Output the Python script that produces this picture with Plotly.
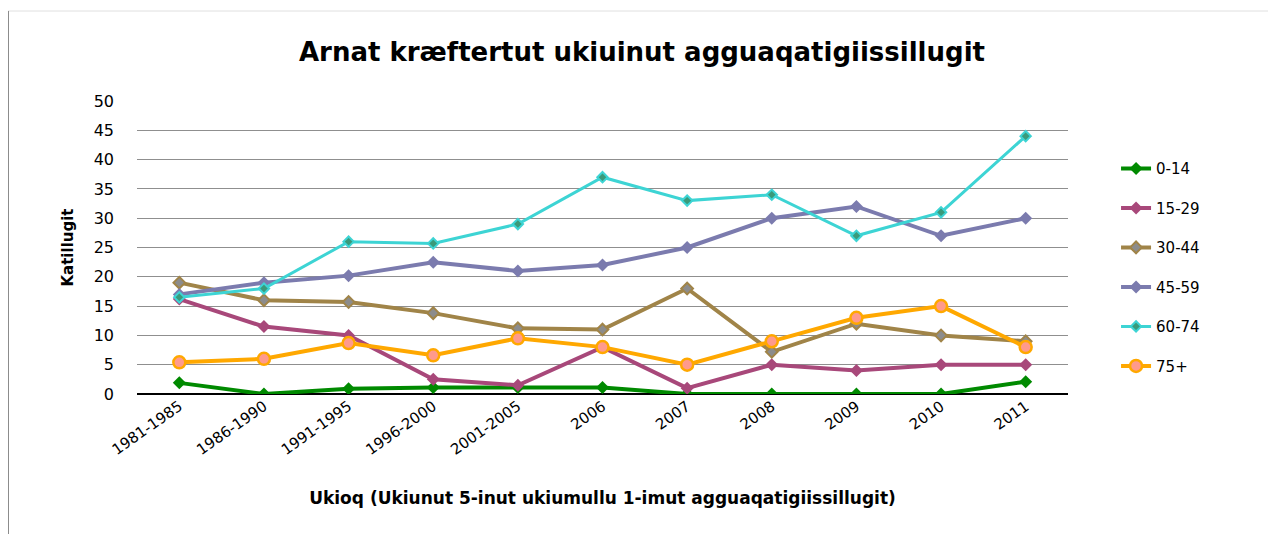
import plotly.graph_objects as go

categories = ["1981-1985", "1986-1990", "1991-1995", "1996-2000", "2001-2005",
              "2006", "2007", "2008", "2009", "2010", "2011"]
series_names = ["0-14", "15-29", "30-44", "45-59", "60-74", "75+"]
v_0_14 = [1.9, 0, 0.9, 1.1, 1.1, 1.1, 0, 0, 0, 0, 2.1]
v_15_29 = [16.2, 11.5, 10, 2.5, 1.5, 8, 1, 5, 4, 5, 5]
v_30_44 = [19, 16, 15.7, 13.8, 11.2, 11, 18, 7.2, 12, 10, 9]
v_45_59 = [17, 19, 20.2, 22.5, 21, 22, 25, 30, 32, 27, 30]
v_60_74 = [16.5, 18, 26, 25.7, 29, 37, 33, 34, 27, 31, 44]
v_75 = [5.4, 6, 8.7, 6.6, 9.5, 8, 5, 9, 13, 15, 8]
y_ticks = [0, 5, 10, 15, 20, 25, 30, 35, 40, 45, 50]

values = [v_0_14, v_15_29, v_30_44, v_45_59, v_60_74, v_75]
styles = [
    dict(line=dict(color="#008A00", width=4), marker=dict(symbol="diamond", size=10, color="#008A00")),
    dict(line=dict(color="#A8487A", width=4), marker=dict(symbol="diamond", size=10, color="#A8487A")),
    dict(line=dict(color="#A08448", width=4), marker=dict(symbol="diamond", size=9, color="#8C8C8C", line=dict(color="#A08448", width=2))),
    dict(line=dict(color="#7B7BAE", width=4), marker=dict(symbol="diamond", size=10, color="#7B7BAE")),
    dict(line=dict(color="#3DD4D4", width=3), marker=dict(symbol="diamond", size=8, color="#3A9A7A", line=dict(color="#3DD4D4", width=2))),
    dict(line=dict(color="#FFA800", width=4), marker=dict(symbol="circle", size=12, color="#FF9A8C", line=dict(color="#FFA800", width=2.5))),
]

fig = go.Figure()
for i, (name, vals, st) in enumerate(zip(series_names, values, styles)):
    fig.add_trace(go.Scatter(x=categories, y=vals, name=name, mode="lines+markers",
                             legendgroup=name, **st))

W, H = 1268, 526
L, T, PW, PH = 129, 93, 931, 293
fig.update_layout(
    width=W, height=H,
    paper_bgcolor="white", plot_bgcolor="white",
    margin=dict(l=L, r=W - L - PW, t=T, b=H - T - PH, autoexpand=False),
    font=dict(family="DejaVu Sans, sans-serif", color="#000000", size=13),
    title=dict(text="<b>Arnat kræftertut ukiuinut agguaqatigiissillugit</b>",
               x=(642 - 8) / W, xanchor="center", xref="container",
               y=1 - 44 / H, yref="container", yanchor="middle",
               font=dict(size=26, family="DejaVu Sans, sans-serif")),
    showlegend=True,
    legend=dict(x=1.0516, xanchor="left", y=0.433, yanchor="middle",
                font=dict(size=15, family="DejaVu Sans, sans-serif"),
                tracegroupgap=17, bgcolor="rgba(0,0,0,0)"),
    xaxis=dict(type="category", tickangle=-35, showgrid=False, showline=False,
               ticks="", tickfont=dict(size=15),
               range=[-0.5, 10.5],
               title=dict(text="<b>Ukioq (Ukiunut 5-inut ukiumullu 1-imut agguaqatigiissillugit)</b>",
                          font=dict(size=17), standoff=34)),
    yaxis=dict(range=[0, 50], tickvals=y_ticks, showgrid=True, gridcolor="#8F8F8F",
               gridwidth=1, zeroline=True, zerolinecolor="#000000", zerolinewidth=1.5,
               ticks="", tickfont=dict(size=16), ticklabelstandoff=22,
               title=dict(text="<b>Katillugit</b>", font=dict(size=15), standoff=16)),
    shapes=[
        dict(type="line", xref="paper", yref="paper", x0=-L / PW, x1=(W - L) / PW,
             y0=1 + (T - 3) / PH, y1=1 + (T - 3) / PH,
             line=dict(color="#E0E0E0", width=1)),
        dict(type="line", xref="paper", yref="paper", x0=-L / PW, x1=-L / PW,
             y0=1 + (T - 3) / PH, y1=-0.6,
             line=dict(color="#8C8C8C", width=2)),
    ],
)

fig.write_html("out.html")
